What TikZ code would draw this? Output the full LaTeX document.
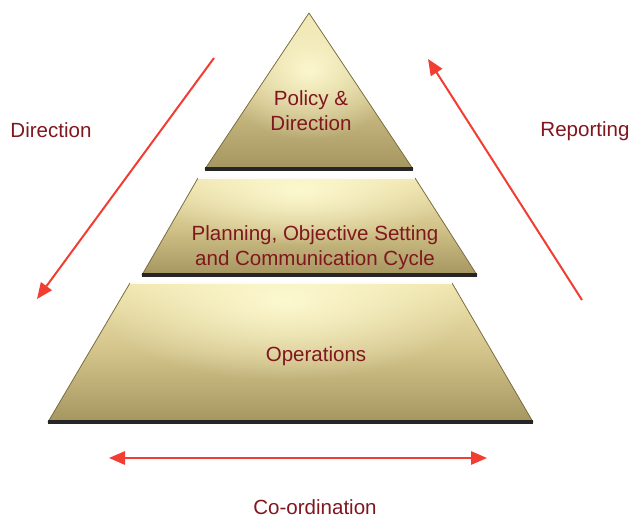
\documentclass[tikz,border=0pt]{standalone}
\usepackage{fontspec}
\setmainfont{Liberation Sans}
\usetikzlibrary{arrows.meta,fadings}
\tikzfading[name=myglow, inner color=transparent!0, outer color=transparent!100]
\definecolor{txtred}{RGB}{128,22,30}
\definecolor{arrred}{RGB}{242,62,50}
\definecolor{tlight}{RGB}{240,229,175}
\definecolor{tmid}{RGB}{210,195,138}
\definecolor{tdark}{RGB}{165,150,96}
\definecolor{tglow}{RGB}{255,252,212}
\definecolor{tedge}{RGB}{122,108,62}
\tikzset{
 lbl/.style={text=txtred, font=\fontsize{15.4}{18.75}\selectfont, align=center, inner sep=0pt},
 arr/.style={draw=arrred, line width=1.5pt, -{Triangle[length=12pt,width=10pt]}},
 arrboth/.style={draw=arrred, line width=1.5pt, {Triangle[length=12pt,width=10pt]}-{Triangle[length=12pt,width=10pt]}},
 tier/.style={top color=tlight, bottom color=tdark, middle color=tmid},
 rim/.style={draw=tedge, line width=0.6pt, line join=round},
 baseedge/.style={draw=black!85, line width=2.6pt, line cap=butt},
 glow/.style={fill=tglow, path fading=myglow, opacity=0.9},
}
\begin{document}
\begin{tikzpicture}[x=0.75pt,y=-0.75pt]
\useasboundingbox (0,0) rectangle (638,519);
% top tier
\coordinate (a1) at (309,13);
\coordinate (a2) at (413,169);
\coordinate (a3) at (205,169);
\shade[tier] (a1) -- (a2) -- (a3) -- cycle;
\begin{scope}
\clip (a1) -- (a2) -- (a3) -- cycle;
\fill[glow] (309,70) ellipse [x radius=90, y radius=70];
\end{scope}
\draw[rim] (a1) -- (a2) -- (a3) -- cycle;
\draw[baseedge] (a3) -- (a2);
% middle tier
\coordinate (b1) at (198,178);
\coordinate (b2) at (415,178);
\coordinate (b3) at (477,275);
\coordinate (b4) at (142,275);
\shade[tier] (b1) -- (b2) -- (b3) -- (b4) -- cycle;
\begin{scope}
\clip (b1) -- (b2) -- (b3) -- (b4) -- cycle;
\fill[glow] (300,190) ellipse [x radius=150, y radius=55];
\end{scope}
\draw[rim] (b1) -- (b2) -- (b3) -- (b4) -- cycle;
\draw[white!90!tlight, line width=1pt] (b1) -- (b2);
\draw[baseedge] (b4) -- (b3);
% bottom tier
\coordinate (c1) at (130,283);
\coordinate (c2) at (452,283);
\coordinate (c3) at (533,422);
\coordinate (c4) at (48,422);
\shade[tier] (c1) -- (c2) -- (c3) -- (c4) -- cycle;
\begin{scope}
\clip (c1) -- (c2) -- (c3) -- (c4) -- cycle;
\fill[glow] (285,300) ellipse [x radius=190, y radius=80];
\end{scope}
\draw[rim] (c1) -- (c2) -- (c3) -- (c4) -- cycle;
\draw[white!90!tlight, line width=1pt] (c1) -- (c2);
\draw[baseedge] (c4) -- (c3);
% texts
\node[lbl] (policy) at (311,111) {Policy \&\\Direction};
\node[lbl] (plan) at (315,248) {Planning, Objective Setting\\and Communication Cycle};
\node[lbl, anchor=base] (ops) at (316,361) {Operations};
\node[lbl, anchor=base] (dirl) at (51,137) {Direction};
\node[lbl, anchor=base] (repl) at (585,136) {Reporting};
\node[lbl, anchor=base] (coord) at (315,514) {Co-ordination};
% arrows
\coordinate (d0) at (214,58);
\coordinate (d1) at (37,299);
\draw[arr] (d0) -- (d1);
\coordinate (r0) at (582,300);
\coordinate (r1) at (428,59);
\draw[arr] (r0) -- (r1);
\coordinate (h0) at (109,458);
\coordinate (h1) at (487,458);
\draw[arrboth] (h0) -- (h1);
\end{tikzpicture}
\end{document}
